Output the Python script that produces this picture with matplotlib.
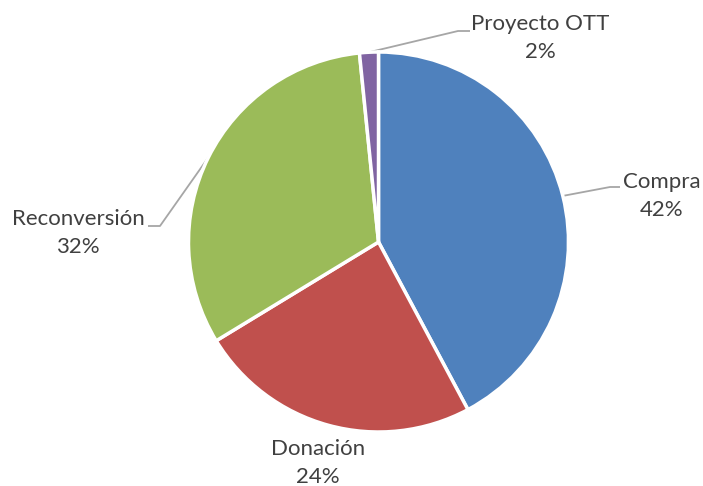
import numpy as np
import matplotlib
matplotlib.use("Agg")
import matplotlib.pyplot as plt

categories = ["Compra", "Donación", "Reconversión", "Proyecto OTT"]
values = [42.2, 24.1, 32.1, 1.6]
pct_labels = ["42%", "24%", "32%", "2%"]
colors = ["#4F81BD", "#C0504D", "#9BBB59", "#8064A2"]

W, H = 703, 486
fig = plt.figure(figsize=(W / 100, H / 100), dpi=100)
ax = fig.add_axes([0, 0, 1, 1])

cx, cy, r = 378.5, H - 242, 190
wedges, _ = ax.pie(values, colors=colors, startangle=90, counterclock=False,
                   center=(cx, cy), radius=r, frame=True,
                   wedgeprops=dict(edgecolor="white", linewidth=2.5))
ax.set_xlim(0, W)
ax.set_ylim(0, H)
ax.set_aspect("equal")
ax.axis("off")

# label text positions (pixels from top-left) and leader elbow points
label_pos = [(662, 196), (318, 463), (78, 233), (540, 38)]
elbows = [[(610, 187), (620, 187)], None, [(160, 226), (148, 226)], [(458, 31), (470, 31)]]

for w, cat, pct, (tx, ty), el in zip(wedges, categories, pct_labels, label_pos, elbows):
    ang = np.deg2rad((w.theta1 + w.theta2) / 2)
    if el is not None:
        sx = cx + r * np.cos(ang)
        sy = cy + r * np.sin(ang)
        xs = [sx] + [p[0] for p in el]
        ys = [sy] + [H - p[1] for p in el]
        ax.plot(xs, ys, color="#A6A6A6", lw=1.3, solid_capstyle="butt", zorder=0)
    ax.text(tx, H - ty, f"{cat}\n{pct}", ha="center", va="center",
            fontsize=16, family=["Lato", "DejaVu Sans"], color="#404040",
            linespacing=1.45)

fig.savefig("out.png", dpi=100)
